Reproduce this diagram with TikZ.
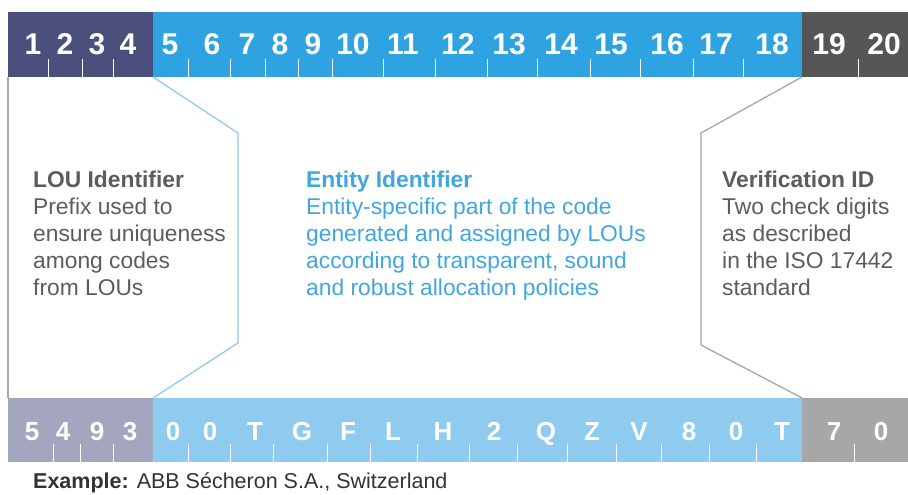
\documentclass[tikz,border=0pt]{standalone}
\usepackage{fontspec}
\setmainfont{Liberation Sans}
\definecolor{louDark}{HTML}{4B4F7B}
\definecolor{entDark}{HTML}{2FA3E2}
\definecolor{verDark}{HTML}{565656}
\definecolor{louLight}{HTML}{A4A5BE}
\definecolor{entLight}{HTML}{8FCBEF}
\definecolor{verLight}{HTML}{A7A7A7}
\definecolor{txtGray}{HTML}{5C5C5C}
\definecolor{txtBlue}{HTML}{3FA6E0}
\tikzset{
  digit/.style={text=white, font=\fontsize{30}{30}\selectfont\bfseries, inner sep=0pt, anchor=base},
  letter/.style={text=white, font=\fontsize{26}{26}\selectfont\bfseries, inner sep=0pt, anchor=base},
  tick/.style={white, line width=0.8pt},
  infotext/.style={font=\fontsize{22.8}{27}\selectfont, align=left, inner sep=0pt, anchor=north west},
  link/.style={line width=1.3pt}
}
\begin{document}
\begin{tikzpicture}[x=1pt, y=-1pt]

      \useasboundingbox (0, 0) rectangle (908, 495);

      % code bars
      \fill[louDark] (8, 12) rectangle (153, 77);
      \fill[entDark] (153, 12) rectangle (802, 77);
      \fill[verDark] (802, 12) rectangle (908, 77);
      \fill[louLight] (8, 398) rectangle (153, 462);
      \fill[entLight] (153, 398) rectangle (802, 462);
      \fill[verLight] (802, 398) rectangle (908, 462);

      \foreach \x in {48, 82, 113, 188, 230, 265, 298, 332, 383, 435, 487, 537, 590, 640, 693, 743, 858}
        \draw[tick] (\x, 59) -- (\x, 77);
      \foreach \x in {53, 80, 113, 188, 230, 273, 327, 370, 417, 469, 517, 567, 616, 661, 709, 756, 854}
        \draw[tick] (\x, 444) -- (\x, 462);

      \foreach \x [count=\i] in {33, 65, 97, 128, 170, 212, 247, 280, 313, 353, 403, 458, 509, 561, 611, 667, 716, 772, 829, 884}
        \node[digit] (pos\i) at (\x, 55) {\i};
      \foreach \x/\c [count=\i] in {32/5, 63/4, 97/9, 130/3, 173/0, 210/0, 255/T, 302/G, 348/F, 393/L, 443/H, 494/2, 546/Q, 592/Z, 639/V, 689/8, 736/0, 782/T, 834/7, 881/0}
        \node[letter] (chr\i) at (\x, 440) {\c};

      % brackets between the bars
      \coordinate (louTop) at (8, 77);
      \coordinate (louBot) at (8, 398);
      \coordinate (entTop) at (153, 77);
      \coordinate (entBot) at (153, 398);
      \coordinate (verTop) at (802, 77);
      \coordinate (verBot) at (802, 398);
      \coordinate (entKneeA) at (238, 133);
      \coordinate (entKneeB) at (238, 343);
      \coordinate (verKneeA) at (701, 133);
      \coordinate (verKneeB) at (701, 345);

      \draw[louLight, line width=2.5pt] (louTop) -- (louBot);
      \draw[link, entLight] (entTop) -- (entKneeA) -- (entKneeB) -- (entBot);
      \draw[link, verLight] (verTop) -- (verKneeA) -- (verKneeB) -- (verBot);

      % descriptions
      \node[infotext, text=txtGray] (lou) at (33, 171)
        {\textbf{LOU Identifier}\\Prefix used to\\ensure uniqueness\\among codes\\from LOUs};
      \node[infotext, text=txtBlue] (entity) at (306, 171)
        {\textbf{Entity Identifier}\\Entity-specific part of the code\\generated and assigned by LOUs\\according to transparent, sound\\and robust allocation policies};
      \node[infotext, text=txtGray] (verify) at (722, 171)
        {\textbf{Verification ID}\\Two check digits\\as described\\in the ISO 17442\\standard};

      \node[font=\fontsize{21.5}{27}\selectfont, text=black!80, inner sep=0pt, anchor=base west] (example) at (33, 488)
        {\textbf{Example:} ABB Sécheron S.A., Switzerland};

    \end{tikzpicture}
\end{document}
